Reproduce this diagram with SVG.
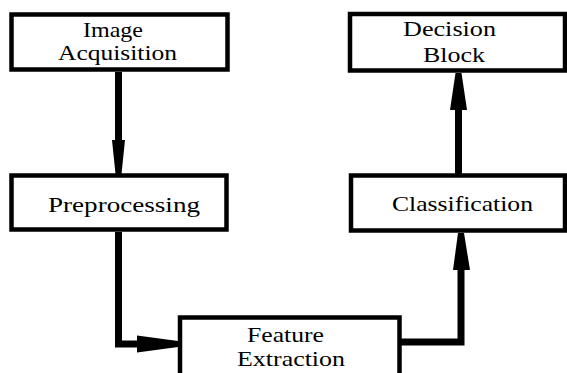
<svg xmlns="http://www.w3.org/2000/svg" width="567" height="373" viewBox="0 0 567 373">
<style>
.box{fill:#fff;stroke:#000;stroke-width:4.5}
.lbl{font-family:'Liberation Serif','Times New Roman','DejaVu Serif',serif;font-size:22px;fill:#000;text-anchor:middle}
.con{fill:none;stroke:#000;stroke-width:7;stroke-linejoin:miter}
.head{fill:#000}
</style>
<rect width="567" height="373" fill="#fff"/>
<g id="connectors">
<path class="con" d="M118.5,72 V142"/>
<polygon class="head" points="112,140 125,140 121.5,174 115.5,174"/>
<path class="con" d="M118.5,232 V344 H140"/>
<polygon class="head" points="137,335.5 137,352.5 178,347 178,341"/>
<path class="con" d="M400,342 H461 V268"/>
<polygon class="head" points="453,270 470,270 464,233 458,233"/>
<path class="con" d="M458.5,175 V108"/>
<polygon class="head" points="450,110 467,110 461.5,73 455.5,73"/>
</g>
<g id="image-acquisition">
<rect class="box" x="11.5" y="14.5" width="216" height="55"/>
<text class="lbl" x="113" y="37" textLength="60" lengthAdjust="spacingAndGlyphs">Image</text>
<text class="lbl" x="117.5" y="60" textLength="119" lengthAdjust="spacingAndGlyphs">Acquisition</text>
</g>
<g id="preprocessing">
<rect class="box" x="11.5" y="175.5" width="215" height="54"/>
<text class="lbl" x="124" y="212" textLength="152" lengthAdjust="spacingAndGlyphs">Preprocessing</text>
</g>
<g id="feature-extraction">
<rect class="box" x="180" y="317.5" width="219.5" height="70"/>
<text class="lbl" x="285.5" y="342" textLength="77" lengthAdjust="spacingAndGlyphs">Feature</text>
<text class="lbl" x="291" y="366" textLength="108" lengthAdjust="spacingAndGlyphs">Extraction</text>
</g>
<g id="classification">
<rect class="box" x="351" y="175.5" width="214" height="55"/>
<text class="lbl" x="462.5" y="211" textLength="141" lengthAdjust="spacingAndGlyphs">Classification</text>
</g>
<g id="decision-block">
<rect class="box" x="350" y="14" width="215" height="56.5"/>
<text class="lbl" x="449.5" y="36" textLength="93" lengthAdjust="spacingAndGlyphs">Decision</text>
<text class="lbl" x="454" y="62" textLength="62" lengthAdjust="spacingAndGlyphs">Block</text>
</g>
</svg>
